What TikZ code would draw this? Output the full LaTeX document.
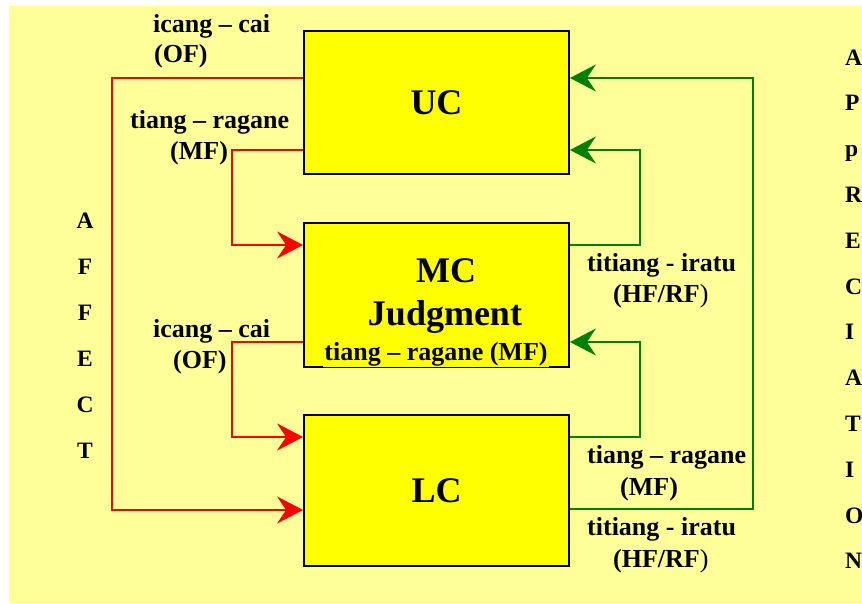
\documentclass[tikz,border=0pt]{standalone}
\usepackage{fontspec}
\setmainfont{Liberation Serif}
\usetikzlibrary{arrows.meta}
\definecolor{bgyellow}{RGB}{255,255,153}
\definecolor{boxyellow}{RGB}{255,255,0}
\definecolor{arrred}{RGB}{255,0,0}
\definecolor{arrgreen}{RGB}{0,128,0}
\begin{document}
\begin{tikzpicture}[x=1pt,y=-1pt,
  box/.style={draw=black, line width=1.8pt, fill=boxyellow, minimum width=265pt, inner sep=0pt, font=\fontsize{36}{40}\selectfont\bfseries},
  lbl/.style={font=\fontsize{26}{28}\selectfont\bfseries, inner sep=0pt, anchor=base west},
  ctr/.style={font=\fontsize{26}{28}\selectfont\bfseries, inner sep=0pt, anchor=base},
  big/.style={font=\fontsize{36}{40}\selectfont\bfseries, inner sep=0pt, anchor=base},
  letter/.style={font=\fontsize{23.5}{26}\selectfont\bfseries, inner sep=0pt, anchor=base},
  tip/.style={-{Stealth[length=26pt,width=27pt,inset=9pt]}},
  redline/.style={draw=arrred, line width=1.5pt, tip},
  greenline/.style={draw=arrgreen, line width=1.5pt, tip}]
\useasboundingbox (0,0) rectangle (862,603);
\fill[bgyellow] (9,6) rectangle (862,603);

% boxes
\node[box, minimum height=143pt] (uc) at (436.5,102.5) {UC};
\node[box, minimum height=144pt] (mc) at (436.5,295) {};
\node[box, minimum height=151pt] (lc) at (436.5,490.5) {LC};

% MC box text
\node[big] (mct) at (446,282) {MC};
\node[big] (jud) at (445,325) {Judgment};
\node[ctr, fill=boxyellow, inner sep=1pt] (mcmf) at (436,360) {tiang -- ragane (MF)};

% red connectors
\coordinate (ra1) at (112,78);
\coordinate (ra2) at (112,510);
\draw[redline] (uc.west |- ra1) -- (ra1) -- (ra2) -- (lc.west |- ra2);
\coordinate (rb1) at (232,150);
\coordinate (rb2) at (232,245);
\draw[redline] (uc.west |- rb1) -- (rb1) -- (rb2) -- (mc.west |- rb2);
\coordinate (rc1) at (232,342);
\coordinate (rc2) at (232,437);
\draw[redline] (mc.west |- rc1) -- (rc1) -- (rc2) -- (lc.west |- rc2);

% green connectors
\coordinate (ga1) at (640,245);
\coordinate (ga2) at (640,150);
\draw[greenline] (mc.east |- ga1) -- (ga1) -- (ga2) -- (uc.east |- ga2);
\coordinate (gb1) at (640,437);
\coordinate (gb2) at (640,342);
\draw[greenline] (lc.east |- gb1) -- (gb1) -- (gb2) -- (mc.east |- gb2);
\coordinate (gc1) at (753,509);
\coordinate (gc2) at (753,78);
\draw[greenline] (lc.east |- gc1) -- (gc1) -- (gc2) -- (uc.east |- gc2);

% left labels
\node[lbl] (l1a) at (153,32) {icang -- cai};
\node[lbl] (l1b) at (154,62) {(OF)};
\node[lbl] (l2a) at (130,128) {tiang -- ragane};
\node[lbl] (l2b) at (170,159) {(MF)};
\node[lbl] (l3a) at (153,337) {icang -- cai};
\node[lbl] (l3b) at (173,368) {(OF)};

% right labels
\node[lbl] (r1a) at (587,271) {titiang - iratu};
\node[lbl] (r1b) at (613,302) {(HF/RF\textmd{)}};
\node[lbl] (r2a) at (587,463) {tiang -- ragane};
\node[lbl] (r2b) at (620,495) {(MF)};
\node[lbl] (r3a) at (587,535) {titiang - iratu};
\node[lbl] (r3b) at (613,567) {(HF/RF\textmd{)}};

% AFFECT
\foreach \c [count=\i from 0] in {A,F,F,E,C,T}
  \node[letter] (aff\i) at (85,228+46*\i) {\c};

% APPRECIATION
\foreach \c [count=\i from 0] in {A,P,p,R,E,C,I,A,T,I,O,N}
  \node[letter, anchor=base west] (app\i) at (845,65+45.8*\i) {\c};
\end{tikzpicture}
\end{document}
